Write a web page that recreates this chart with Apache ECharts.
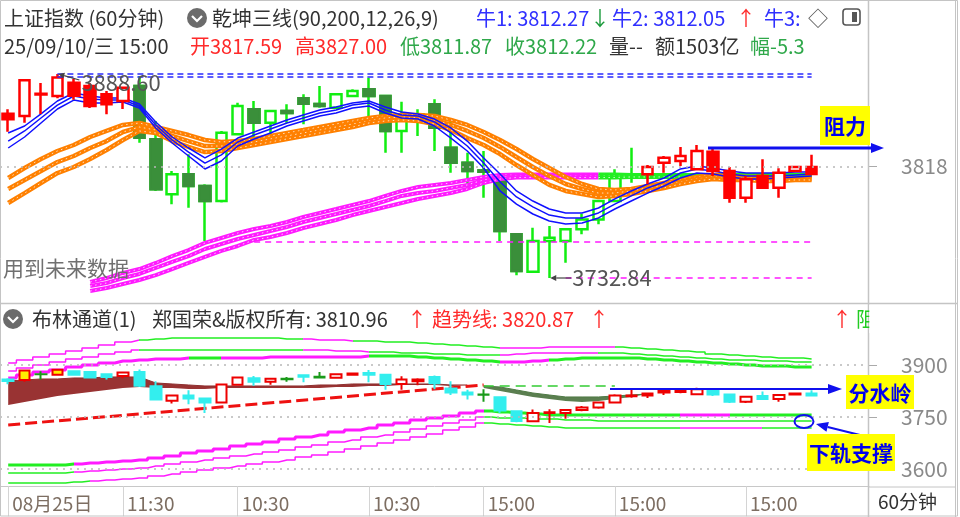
<!DOCTYPE html>
<html>
<head>
<meta charset="utf-8">
<script src="https://cdn.jsdelivr.net/npm/echarts@6.0.0/dist/echarts.min.js"></script>
<style>html,body{margin:0;padding:0;background:#ffffff;}#chart{width:960px;height:517px;}</style>
</head>
<body>
<div id="chart"></div>
<script>
// ---------------- DATA ----------------
const categories = [
 '08/25 14:00','08/25 15:00',
 '08/26 10:30','08/26 11:30','08/26 14:00','08/26 15:00',
 '08/27 10:30','08/27 11:30','08/27 14:00','08/27 15:00',
 '08/28 10:30','08/28 11:30','08/28 14:00','08/28 15:00',
 '08/29 10:30','08/29 11:30','08/29 14:00','08/29 15:00',
 '09/01 10:30','09/01 11:30','09/01 14:00','09/01 15:00',
 '09/02 10:30','09/02 11:30','09/02 14:00','09/02 15:00',
 '09/03 10:30','09/03 11:30','09/03 14:00','09/03 15:00',
 '09/04 10:30','09/04 11:30','09/04 14:00','09/04 15:00',
 '09/05 10:30','09/05 11:30','09/05 14:00','09/05 15:00',
 '09/08 10:30','09/08 11:30','09/08 14:00','09/08 15:00',
 '09/09 10:30','09/09 11:30','09/09 14:00','09/09 15:00',
 '09/10 10:30','09/10 11:30','09/10 14:00','09/10 15:00',
 ' ','  ','   '
];
const tickIdx = [0, 7, 14, 22, 29, 37, 45];
const tickLabels = ['08月25日', '11:30', '10:30', '10:30', '15:00', '15:00', '15:00'];

const open  = [3858.3,3856.5,3873.5,3871.8,3882.0,3879.4,3873.1,3868.0,3879.4,3838.7,
               3796.8,3812.0,3803.1,3791.6,3842.6,3861.6,3851.4,3860.4,3870.0,3865.7,
               3862.9,3871.8,3876.9,3871.8,3845.1,3853.3,3865.5,3832.3,3820.9,3815.0,
               3806.9,3766.2,3737.6,3761.1,3761.1,3770.0,3777.6,3791.6,3810.0,3812.0,
               3820.9,3822.2,3815.8,3829.3,3814.5,3794.2,3810.7,3801.8,3814.5,3817.59];
const close = [3854.0,3883.8,3873.0,3886.0,3872.0,3864.2,3865.5,3878.1,3840.0,3800.6,
               3812.0,3803.1,3791.6,3843.8,3864.2,3851.4,3860.4,3858.8,3865.9,3864.2,
               3873.1,3875.6,3871.8,3845.1,3857.8,3857.8,3847.6,3820.9,3814.5,3814.0,
               3768.7,3738.2,3761.1,3763.6,3770.0,3777.6,3791.6,3812.0,3812.0,3817.6,
               3824.7,3826.0,3829.8,3814.5,3794.2,3808.2,3801.8,3813.2,3817.6,3812.22];
const low   = [3844.5,3851.4,3858.0,3870.0,3869.0,3862.6,3857.8,3861.9,3836.1,3799.3,
               3789.1,3786.5,3761.1,3790.5,3842.0,3840.0,3842.6,3851.4,3850.2,3862.9,
               3862.0,3871.0,3850.2,3828.5,3828.5,3841.3,3829.8,3813.2,3800.6,3794.2,
               3761.1,3735.0,3737.0,3732.84,3744.5,3766.2,3773.8,3791.0,3805.6,3804.4,
               3813.2,3818.4,3815.0,3810.7,3790.3,3790.3,3801.0,3794.2,3814.0,3811.87];
const high  = [3861.6,3884.8,3881.7,3888.6,3885.0,3881.7,3875.6,3878.7,3887.1,3852.7,
               3814.5,3827.3,3804.4,3845.1,3866.7,3868.0,3861.0,3865.5,3873.1,3879.4,
               3874.0,3877.0,3885.8,3871.8,3867.5,3861.6,3869.3,3852.7,3828.5,3829.8,
               3808.4,3767.2,3771.2,3772.5,3771.0,3781.9,3792.5,3815.8,3832.3,3819.1,
               3826.0,3832.9,3834.4,3831.3,3817.6,3810.7,3823.5,3816.6,3818.5,3827.00];

// 乾坤三线 - fast (blue) lines
const blue1 = [3843.6,3848.9,3858.1,3868.0,3874.1,3871.8,3870.3,3870.3,3865.7,3852.0,
               3840.5,3832.1,3824.5,3831.3,3839.7,3844.3,3848.9,3853.5,3857.3,3861.1,
               3863.4,3866.5,3868.0,3863.4,3859.6,3858.1,3854.2,3847.4,3837.4,3824.5,
               3812.2,3799.3,3791.6,3785.5,3782.5,3782.5,3786.3,3793.2,3799.3,3804.6,
               3809.2,3816.1,3818.4,3816.8,3814.5,3813.0,3813.0,3813.0,3813.8,3813.8];
const blue2 = [3837.4,3845.1,3855.0,3864.9,3871.8,3869.5,3868.7,3868.7,3864.2,3849.7,
               3838.2,3829.0,3820.6,3826.8,3836.7,3842.0,3846.6,3851.2,3855.0,3858.8,
               3861.1,3864.9,3866.5,3861.1,3857.3,3856.5,3852.0,3843.6,3833.6,3820.6,
               3806.1,3794.7,3787.1,3780.9,3778.7,3778.7,3782.5,3789.3,3795.5,3801.6,
               3806.1,3813.0,3816.1,3814.5,3812.2,3810.7,3810.7,3810.7,3811.5,3812.2];
const blue3 = [3832.1,3840.5,3851.2,3861.9,3868.7,3866.5,3866.5,3867.2,3862.6,3847.4,
               3835.9,3826.0,3816.1,3822.2,3833.6,3839.0,3843.6,3848.9,3852.7,3856.5,
               3858.8,3862.6,3864.2,3858.8,3855.0,3854.2,3848.9,3839.7,3829.8,3816.8,
               3799.3,3789.3,3781.7,3776.4,3774.1,3774.8,3778.7,3785.5,3791.6,3797.7,
               3803.1,3809.2,3813.0,3812.2,3810.0,3808.4,3808.4,3809.2,3810.0,3810.7];
// medium (orange) lines
const orange1 = [3809.2,3816.8,3823.7,3829.8,3834.4,3840.5,3845.1,3849.7,3851.2,3848.1,
                 3845.1,3842.0,3838.2,3836.7,3837.4,3839.0,3841.3,3843.6,3845.8,3848.1,
                 3850.4,3852.7,3855.0,3856.5,3857.3,3857.3,3856.5,3853.5,3849.7,3844.3,
                 3838.2,3831.3,3823.7,3816.8,3810.0,3804.6,3800.8,3800.0,3800.8,3803.1,
                 3805.4,3807.7,3810.0,3811.5,3810.7,3810.0,3810.0,3809.2,3809.2,3809.2];
const orange2 = [3800.8,3807.7,3814.5,3821.4,3826.0,3832.1,3837.4,3844.3,3848.1,3845.8,
                 3841.3,3837.4,3833.6,3833.6,3835.2,3836.7,3839.0,3841.3,3843.6,3845.8,
                 3848.1,3850.4,3852.7,3855.0,3855.8,3855.0,3853.5,3849.7,3845.1,3839.7,
                 3832.9,3825.2,3817.6,3810.7,3804.6,3800.8,3797.7,3797.7,3799.3,3801.6,
                 3803.9,3806.1,3808.4,3810.0,3809.2,3809.2,3808.4,3808.4,3808.4,3808.4];
const orange3 = [3790.1,3797.7,3805.4,3813.0,3817.6,3823.7,3830.6,3838.2,3845.1,3843.6,
                 3837.4,3832.9,3829.0,3829.8,3832.1,3834.4,3836.7,3839.0,3841.3,3843.6,
                 3845.8,3848.1,3851.2,3852.7,3853.5,3852.7,3850.4,3845.8,3839.7,3834.4,
                 3827.5,3819.1,3811.5,3803.9,3799.3,3797.0,3794.7,3795.5,3797.0,3799.3,
                 3801.6,3804.6,3806.9,3808.4,3807.7,3807.7,3806.9,3806.9,3807.7,3807.7];
// slow (magenta / green) lines
const slow1 = ['-','-','-','-','-',3729.8,3732.8,3736.7,3739.7,3744.3,
               3749.6,3754.2,3759.6,3763.4,3767.2,3770.3,3772.5,3775.6,3779.4,3782.5,
               3785.5,3788.6,3791.6,3795.5,3799.3,3802.3,3803.9,3805.4,3807.7,3810.0,
               3811.5,3811.9,3811.9,3811.9,3811.9,3811.9,3811.9,3811.9,3811.5,3811.5,
               3811.5,3811.5,3811.5,3811.5,3811.5,3811.5,3811.5,3811.5,3811.5,3811.5];
const slow2 = ['-','-','-','-','-',3726.7,3729.0,3732.8,3735.9,3740.5,
               3745.1,3749.6,3755.0,3758.8,3762.6,3765.7,3768.7,3771.8,3775.6,3778.7,
               3781.7,3784.8,3787.8,3791.6,3795.5,3797.7,3799.3,3801.6,3803.9,3807.7,
               3810.0,3810.7,3810.7,3810.7,3810.7,3810.7,3810.7,3810.7,3810.7,3810.7,
               3810.7,3810.7,3810.7,3810.7,3810.7,3810.7,3810.7,3810.7,3810.7,3810.7];
const slow3 = ['-','-','-','-','-',3722.9,3725.2,3728.3,3731.3,3735.1,
               3739.7,3744.3,3748.9,3753.5,3757.3,3761.9,3764.1,3767.2,3771.0,3774.1,
               3777.1,3780.9,3784.0,3787.1,3790.1,3793.2,3795.5,3797.7,3800.8,3805.4,
               3808.4,3809.6,3809.6,3809.6,3809.6,3809.6,3809.6,3809.6,3810.0,3810.0,
               3810.0,3810.0,3810.0,3810.0,3810.0,3810.0,3810.0,3810.0,3810.0,3810.0];
// reference levels on main panel
const highMark = 3888.60;
const lowMark = 3732.84;
const supportLevel = 3760.6;
const priceTick = 3818;

// 布林通道 lower panel
const upper1 = [3905.8,3914.4,3923.1,3931.7,3940.4,3949.0,3957.7,3966.4,3972.1,3975.0,
                3977.9,3977.9,3977.9,3977.9,3977.9,3977.9,3977.9,3975.0,3975.0,3972.1,
                3972.1,3969.2,3969.2,3966.4,3966.4,3963.5,3960.6,3957.7,3954.8,3951.9,
                3949.0,3949.0,3949.0,3951.9,3951.9,3951.9,3951.9,3951.9,3949.0,3946.2,
                3943.3,3940.4,3937.5,3931.7,3928.9,3926.0,3923.1,3920.2,3920.2,3917.3];
const upper2 = [3882.7,3891.3,3900.0,3908.7,3917.3,3923.1,3931.7,3937.5,3943.3,3943.3,
                3943.3,3943.3,3943.3,3943.3,3943.3,3943.3,3943.3,3943.3,3943.3,3943.3,
                3940.4,3940.4,3937.5,3937.5,3934.6,3934.6,3931.7,3931.7,3928.9,3928.9,
                3928.9,3931.7,3934.6,3934.6,3934.6,3934.6,3934.6,3934.6,3931.7,3928.9,
                3926.0,3923.1,3920.2,3917.3,3914.4,3914.4,3911.5,3911.5,3908.7,3908.7];
const upper3 = [3862.5,3871.2,3879.8,3885.6,3894.2,3900.0,3905.8,3911.5,3914.4,3917.3,
                3917.3,3920.2,3920.2,3920.2,3920.2,3920.2,3923.1,3923.1,3923.1,3923.1,
                3923.1,3923.1,3926.0,3926.0,3926.0,3923.1,3920.2,3917.3,3914.4,3911.5,
                3908.7,3908.7,3911.5,3914.4,3917.3,3920.2,3920.2,3920.2,3920.2,3917.3,
                3914.4,3911.5,3908.7,3905.8,3902.9,3900.0,3897.1,3897.1,3894.2,3894.2];
const lower1 = [3611.5,3611.5,3611.5,3611.5,3614.4,3617.3,3620.2,3623.0,3625.9,3631.7,
                3637.5,3646.1,3651.9,3657.7,3666.3,3672.1,3677.9,3686.5,3692.3,3698.0,
                3706.7,3712.5,3718.2,3726.9,3732.7,3741.3,3747.1,3752.9,3761.5,3767.3,
                3764.4,3761.5,3758.6,3755.7,3755.7,3755.7,3755.7,3755.7,3755.7,3755.7,
                3755.7,3755.7,3755.7,3755.7,3755.7,3755.7,3755.7,3755.7,3755.7,3755.7];
const lower2 = [3588.4,3588.4,3588.4,3588.4,3591.3,3594.2,3597.1,3600.0,3602.9,3608.6,
                3614.4,3620.2,3625.9,3631.7,3637.5,3643.2,3649.0,3654.8,3663.4,3669.2,
                3677.9,3683.6,3692.3,3698.0,3706.7,3715.4,3724.0,3732.7,3741.3,3750.0,
                3747.1,3747.1,3744.2,3744.2,3741.3,3741.3,3738.4,3738.4,3738.4,3738.4,
                3738.4,3738.4,3738.4,3738.4,3738.4,3738.4,3738.4,3738.4,3738.4,3738.4];
const lower3 = [3559.6,3559.6,3559.6,3559.6,3562.5,3565.3,3568.2,3571.1,3574.0,3579.8,
                3585.5,3591.3,3597.1,3602.9,3608.6,3614.4,3620.2,3625.9,3634.6,3640.4,
                3649.0,3657.7,3666.3,3675.0,3683.6,3692.3,3700.9,3712.5,3721.1,3732.7,
                3729.8,3726.9,3724.0,3721.1,3718.2,3718.2,3718.2,3718.2,3718.2,3718.2,
                3718.2,3718.2,3718.2,3718.2,3718.2,3718.2,3718.2,3718.2,3718.2,3718.2];
const brownTop = [3853.8,3856.7,3859.6,3859.6,3862.5,3862.5,3865.4,3865.4,3865.4,3848.1,
                  3845.2,3842.3,3839.4,3839.4,3839.4,3839.4,3839.4,3839.4,3839.4,3842.3,
                  3842.3,3845.2,3845.2,3845.2,3845.2,3845.2,3845.2,3842.3,3842.3];
const brownBot = [3784.6,3793.3,3801.9,3810.6,3816.3,3822.1,3827.9,3833.6,3836.5,3833.6,
                  3833.6,3830.8,3830.8,3833.6,3833.6,3833.6,3833.6,3833.6,3833.6,3833.6,
                  3836.5,3836.5,3839.4,3839.4,3842.3,3842.3,3842.3,3839.4,3839.4];
const oliveStart = 29;
const oliveTop = [3839.4,3836.5,3827.9,3819.2,3813.4,3807.7,3807.7,3807.7,3810.6,3813.4,3816.3];
const oliveBot = [3833.6,3825.0,3816.3,3807.7,3801.9,3796.1,3793.3,3796.1,3801.9,3807.7,3813.4];
const trendIdx = [0, 29];
const trendVal = [3726.9, 3842.3];
const divideIdx = [29, 37];
const divideVal = [3839.4, 3839.4];
const lowerTicks = [3600, 3750, 3900];

// ---------------- CHART ----------------
const FONT = '"Noto Sans CJK SC", sans-serif';
const MAG = '#ff1aff', GRN = '#22ee22';
const chart = echarts.init(document.getElementById('chart'), null, {renderer: 'canvas'});

const isRed = i => i < 8 || i >= 39;
const ohlc = i => [open[i], close[i], low[i], high[i]];
const pad = (arr, start) => categories.map((_, i) => (i >= start && i < start + arr.length) ? arr[i - start] : '-');
const part = (arr, a, b) => arr.map((v, i) => (i >= a && i <= b) ? v : '-');

const series = [];
const visualMap = [];

const dotted = {type: [2, 5], color: '#b8b8b8', width: 1.5};
// green regime candles (main)
series.push({
  type: 'candlestick', xAxisIndex: 0, yAxisIndex: 0, z: 2, barWidth: 11,
  data: open.map((_, i) => isRed(i) ? '-' : ohlc(i)),
  itemStyle: {color: '#ffffff', color0: '#3a8f3a', borderColor: '#11ee11', borderColor0: '#11ee11', borderWidth: 2.5},
  markLine: {
    symbol: 'none', silent: true, label: {show: false}, animation: false,
    data: [
      {yAxis: priceTick, lineStyle: dotted},
      [{coord: [3, highMark], lineStyle: {type: [6, 4], color: '#2a2aff', width: 1.5}}, {coord: [49, highMark]}],
      [{coord: [3, highMark - 2.4], lineStyle: {type: [6, 4], color: '#2a2aff', width: 1.5}}, {coord: [49, highMark - 2.4]}],
      [{coord: [15, supportLevel], lineStyle: {type: [6, 5], color: MAG, width: 1.5}}, {coord: [49, supportLevel]}],
      [{coord: [34, lowMark], lineStyle: {type: [6, 5], color: MAG, width: 1.5}}, {coord: [49, lowMark]}]
    ]
  }
});
// dark bodies for green falling candles (keeps bright wick)
series.push({
  type: 'candlestick', xAxisIndex: 0, yAxisIndex: 0, z: 2, barWidth: 11,
  data: open.map((o, i) => (!isRed(i) && close[i] < o) ? [o, close[i], close[i], o] : '-'),
  itemStyle: {color: '#3a8f3a', color0: '#3a8f3a', borderColor: '#3a8f3a', borderColor0: '#3a8f3a', borderWidth: 2.5}
});

function addLine(data, color, width, extra) {
  const s = Object.assign({
    type: 'line', data, xAxisIndex: 0, yAxisIndex: 0, symbol: 'none', silent: true, z: 3,
    lineStyle: color ? {color, width} : {width}
  }, extra || {});
  if (color) s.itemStyle = {color};
  series.push(s);
  return series.length - 1;
}
// thick line with a light speckled core like the reference
function thickLine(data, color, width) {
  addLine(data, color, width);
  addLine(data, null, 1, {lineStyle: {color: 'rgba(255,255,255,0.75)', width: 1, type: [1.5, 3.5]}});
}
[slow1, slow2, slow3].forEach(s => { thickLine(part(s, 0, 36), MAG, 4); thickLine(part(s, 36, 49), GRN, 4); });
[orange1, orange2, orange3].forEach(s => thickLine(s, '#ff8000', 4.5));
[blue1, blue2, blue3].forEach(s => addLine(s, '#1010ff', 1.5));

// red regime candles (main)
series.push({
  type: 'candlestick', xAxisIndex: 0, yAxisIndex: 0, z: 4, barWidth: 11,
  data: open.map((_, i) => isRed(i) ? ohlc(i) : '-'),
  itemStyle: {color: '#ffffff', color0: '#ff0000', borderColor: '#ff0000', borderColor0: '#ff0000', borderWidth: 2.5}
});

// ---- lower panel ----
function addLower(data, color, width, extra) {
  return addLine(data, color, width, Object.assign({xAxisIndex: 1, yAxisIndex: 1}, extra || {}));
}
// brown band
addLower(pad(brownBot, 0), 'rgba(0,0,0,0)', 0, {stack: 'brown', z: 2});
addLower(pad(brownTop.map((t, i) => +(t - brownBot[i]).toFixed(1)), 0), '#8e2f2f', 1,
  {stack: 'brown', z: 2, areaStyle: {color: '#993333', opacity: 1}});
// olive band
addLower(pad(oliveBot, oliveStart), 'rgba(0,0,0,0)', 0, {stack: 'olive', z: 2});
addLower(pad(oliveTop.map((t, i) => +(t - oliveBot[i]).toFixed(1)), oliveStart), '#4f7a45', 1,
  {stack: 'olive', z: 2, areaStyle: {color: '#5b7f50', opacity: 1}});

function segLine(data, width, segs) {
  const idx = addLower(data, null, width, {step: 'middle'});
  const pieces = segs.map((s, k) => {
    const p = {gte: s[0], color: s[1] === 'M' ? MAG : GRN};
    if (k < segs.length - 1) p.lt = segs[k + 1][0];
    return p;
  });
  visualMap.push({type: 'piecewise', show: false, dimension: 0, seriesIndex: idx, pieces});
}
segLine(upper1, 1.5, [[0, 'M'], [8, 'G'], [18, 'M'], [21, 'G'], [30, 'M'], [37, 'G']]);
segLine(upper2, 1.5, [[0, 'M'], [8, 'G'], [18, 'M'], [22, 'G'], [30, 'M'], [36, 'G']]);
segLine(upper3, 3, [[0, 'M'], [11, 'G'], [13, 'M'], [22, 'G'], [30, 'M'], [33, 'G']]);
segLine(lower1, 3, [[0, 'G'], [4, 'M'], [29, 'G'], [41, 'M'], [44, 'G']]);
segLine(lower2, 1.5, [[0, 'G'], [4, 'M'], [29, 'G']]);
segLine(lower3, 1.5, [[0, 'G'], [5, 'M'], [29, 'G'], [41, 'M'], [46, 'G']]);

// trend dashed lines
const trendData = categories.map(() => '-'); trendIdx.forEach((k, j) => trendData[k] = trendVal[j]);
addLower(trendData, '#ee1111', 3, {connectNulls: true, lineStyle: {color: '#ee1111', width: 3, type: [12, 5]}});
const divData = categories.map(() => '-'); divideIdx.forEach((k, j) => divData[k] = divideVal[j]);
addLower(divData, '#33cc33', 1.5, {connectNulls: true, lineStyle: {color: '#33cc33', width: 1.5, type: [10, 6]}});

// lower panel candles
const yellowIdx = [1, 3];
series.push({
  type: 'candlestick', xAxisIndex: 1, yAxisIndex: 1, z: 4, barWidth: 11,
  itemStyle: {color: '#ffffff', color0: '#33eeee', borderColor: '#ee0000', borderColor0: '#33eeee', borderWidth: 2},
  data: open.map((o, i) => {
    const c = close[i];
    let st;
    if (Math.abs(c - o) < 2) st = {color: '#1a9a1a', color0: '#1a9a1a', borderColor: '#1a9a1a', borderColor0: '#1a9a1a'};
    else if (c > o) st = yellowIdx.includes(i) ? {color: '#ffee00', borderColor: '#ee0000'} : {color: '#ffffff', borderColor: '#ee0000'};
    else st = {color0: '#33eeee', borderColor0: '#33eeee'};
    return {value: [o, c, low[i], high[i]], itemStyle: st};
  }),
  markLine: {
    symbol: 'none', silent: true, label: {show: false}, animation: false,
    data: lowerTicks.map(v => ({yAxis: v, lineStyle: dotted}))
  }
});

const xBase = {type: 'category', data: categories, boundaryGap: true};
const axisLabelStyle = {color: '#8a8a8a', fontSize: 21, fontFamily: FONT, formatter: v => String(v)};

const option = {
  animation: false,
  backgroundColor: '#ffffff',
  grid: [
    {left: 0, top: 59.07, width: 869, height: 235.75},
    {left: 0, top: 330.3, width: 869, height: 156}
  ],
  xAxis: [
    Object.assign({}, xBase, {gridIndex: 0, show: false}),
    Object.assign({}, xBase, {
      gridIndex: 1,
      axisLine: {show: true, lineStyle: {color: '#c8c8c8'}},
      axisTick: {show: true, alignWithLabel: true, interval: (i) => tickIdx.includes(i), length: 30, lineStyle: {color: '#d4d4d4'}},
      axisLabel: {
        interval: (i) => tickIdx.includes(i),
        formatter: (v, i) => tickLabels[tickIdx.indexOf(i)] || '',
        align: 'left', padding: [0, 0, 0, 4], margin: 8,
        color: '#7d6e62', fontSize: 19, fontFamily: FONT
      }
    })
  ],
  yAxis: [
    {gridIndex: 0, type: 'value', position: 'right', min: 3720, max: 3900,
     axisLine: {show: false}, splitLine: {show: false},
     axisTick: {show: true, customValues: [priceTick], length: 8, lineStyle: {color: '#aaaaaa'}},
     axisLabel: Object.assign({customValues: [priceTick], margin: 32}, axisLabelStyle)},
    {gridIndex: 1, type: 'value', position: 'right', min: 3550, max: 4000,
     axisLine: {show: false}, splitLine: {show: false},
     axisTick: {show: true, customValues: lowerTicks, length: 8, lineStyle: {color: '#aaaaaa'}},
     axisLabel: Object.assign({customValues: lowerTicks, margin: 32}, axisLabelStyle)}
  ],
  visualMap,
  series
};
chart.setOption(option);

// ---------------- ANNOTATIONS / HEADER ----------------
function txt(x, y, text, fill, size, weight, extra) {
  return {type: 'text', z: 100, silent: true,
    style: Object.assign({x, y, text, fill, font: (weight || 'normal') + ' ' + (size || 20) + 'px ' + FONT,
      textVerticalAlign: 'middle'}, extra || {})};
}
function arrow(x1, y1, x2, y2, color, w, hl, hw) {
  const a = Math.atan2(y2 - y1, x2 - x1), c = Math.cos(a), s = Math.sin(a);
  const bx = x2 - hl * c, by = y2 - hl * s;
  return [
    {type: 'line', z: 100, silent: true, shape: {x1, y1, x2: bx, y2: by}, style: {stroke: color, lineWidth: w}},
    {type: 'polygon', z: 100, silent: true, shape: {points: [[x2, y2], [bx - hw * s, by + hw * c], [bx + hw * s, by - hw * c]]}, style: {fill: color}}
  ];
}
function chevronIcon(cx, cy) {
  return [
    {type: 'circle', z: 100, silent: true, shape: {cx, cy, r: 10}, style: {fill: '#6b6b6b'}},
    {type: 'polyline', z: 101, silent: true, shape: {points: [[cx - 5, cy - 2], [cx, cy + 3], [cx + 5, cy - 2]]}, style: {stroke: '#fff', lineWidth: 2.2, fill: null}}
  ];
}
function labelBox(x, y, w, h, text) {
  return [
    {type: 'rect', z: 100, silent: true, shape: {x, y, width: w, height: h}, style: {fill: '#ffff00'}},
    txt(x + w / 2, y + h / 2 + 1, text, '#0000ee', 21, 'bold', {textAlign: 'center'})
  ];
}

const hiPt = chart.convertToPixel({gridIndex: 0}, [3, highMark]);
const loPt = chart.convertToPixel({gridIndex: 0}, [33, lowMark]);

const DARK = '#333333', RED = '#ff2a2a', GTXT = '#2fa84a', BLUE = '#3030ff';
let g = [];
// frame
g.push({type: 'rect', z: 90, silent: true, shape: {x: 0.5, y: 0.5, width: 957, height: 515.5}, style: {fill: null, stroke: '#c4c4c4', lineWidth: 1}});
g.push({type: 'line', z: 90, silent: true, shape: {x1: 868.5, y1: 0, x2: 868.5, y2: 517}, style: {stroke: '#c4c4c4', lineWidth: 1.5}});
g.push({type: 'line', z: 90, silent: true, shape: {x1: 955.5, y1: 0, x2: 955.5, y2: 517}, style: {stroke: '#c4c4c4', lineWidth: 1}});
g.push({type: 'line', z: 90, silent: true, shape: {x1: 0, y1: 303.5, x2: 958, y2: 303.5}, style: {stroke: '#c4c4c4', lineWidth: 1.5}});
g.push({type: 'line', z: 90, silent: true, shape: {x1: 868, y1: 487, x2: 956, y2: 487}, style: {stroke: '#c4c4c4', lineWidth: 1}});

// header line 1
g.push(txt(4, 18, '上证指数 (60分钟)', DARK, 20));
g = g.concat(chevronIcon(197, 18));
g.push(txt(212, 18, '乾坤三线(90,200,12,26,9)', DARK, 20));
g.push(txt(476, 18, '牛1: 3812.27', BLUE, 20));
g.push(txt(590, 18, '↓', '#1a9a3a', 20));
g.push(txt(612, 18, '牛2: 3812.05', BLUE, 20));
g.push(txt(736, 18, '↑', RED, 20));
g.push(txt(764, 18, '牛3:', BLUE, 20));
g.push(txt(808, 18, '◇', '#555555', 20));
g.push({type: 'rect', z: 100, silent: true, shape: {x: 843, y: 9, width: 17, height: 16, r: 3}, style: {fill: '#fff', stroke: '#555', lineWidth: 1.6}});
g.push({type: 'rect', z: 100, silent: true, shape: {x: 852, y: 12, width: 5, height: 10}, style: {fill: '#555'}});
// header line 2
g.push(txt(4, 46, '25/09/10/三 15:00', DARK, 20));
g.push(txt(190, 46, '开3817.59', RED, 20));
g.push(txt(295, 46, '高3827.00', RED, 20));
g.push(txt(400, 46, '低3811.87', GTXT, 20));
g.push(txt(505, 46, '收3812.22', GTXT, 20));
g.push(txt(609, 46, '量--', DARK, 20));
g.push(txt(655, 46, '额1503亿', DARK, 20));
g.push(txt(750, 46, '幅-5.3', GTXT, 20));

// main panel annotations
g = g.concat(arrow(hiPt[0] + 22, hiPt[1] + 6, hiPt[0] + 1, hiPt[1], '#444', 1.2, 6, 3));
g.push(txt(hiPt[0] + 24, hiPt[1] + 9, highMark.toFixed(2), '#555555', 22));
g = g.concat(arrow(loPt[0] + 22, loPt[1], loPt[0] + 1, loPt[1], '#444', 1.2, 6, 3));
g.push(txt(loPt[0] + 23, loPt[1], lowMark.toFixed(2), '#555555', 22));
g.push(txt(3, 268, '用到未来数据', '#707070', 21));
g = g.concat(arrow(708, 148, 884, 148, '#1010ee', 3, 13, 5));
g = g.concat(labelBox(820, 106, 50, 39, '阻力'));

// lower header
g = g.concat(chevronIcon(13, 319));
g.push(txt(32, 319, '布林通道(1)', DARK, 20));
g.push(txt(152, 319, '郑国荣&版权所有: 3810.96', DARK, 20));
g.push(txt(407, 319, '↑', RED, 20));
g.push(txt(432, 319, '趋势线: 3820.87', RED, 20));
g.push(txt(589, 319, '↑', RED, 20));
g.push(txt(832, 319, '↑', RED, 20));
g.push(txt(856, 319, '阻', '#22cc22', 20));
g.push({type: 'rect', z: 101, silent: true, shape: {x: 869.3, y: 305, width: 85.5, height: 28}, style: {fill: '#ffffff'}});

// lower annotations
g = g.concat(arrow(610, 389, 842, 389, '#1010ee', 2, 14, 5));
g = g.concat(labelBox(846, 375, 68, 34, '分水岭'));
g.push({type: 'ellipse', z: 100, silent: true, shape: {cx: 804, cy: 421.5, rx: 9.5, ry: 6.5}, style: {fill: null, stroke: '#1010ee', lineWidth: 2}});
g = g.concat(arrow(868, 437, 816, 424, '#1010ee', 2, 12, 5));
g = g.concat(labelBox(807, 434, 88, 37, '下轨支撑'));

// bottom right
g.push(txt(878, 502, '60分钟', DARK, 19));

chart.setOption({graphic: {elements: g}});
</script>
</body>
</html>
